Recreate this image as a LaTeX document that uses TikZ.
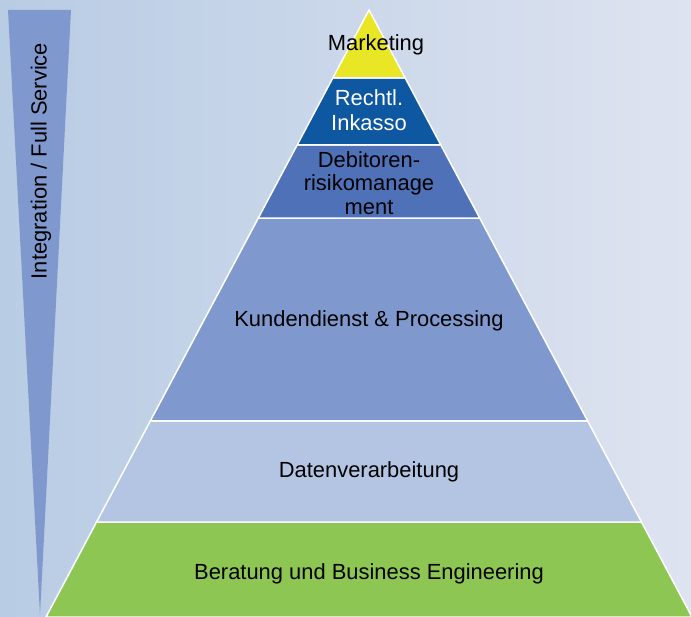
\documentclass[tikz,border=0pt]{standalone}
\usepackage{fontspec}
\setmainfont{Liberation Sans}
\usetikzlibrary{calc}

\definecolor{bgleft}{RGB}{184,204,228}
\definecolor{bgright}{RGB}{222,227,240}
\definecolor{mktyellow}{RGB}{233,230,37}
\definecolor{inkblue}{RGB}{13,88,160}
\definecolor{debblue}{RGB}{79,113,184}
\definecolor{kdblue}{RGB}{127,153,207}
\definecolor{datblue}{RGB}{180,197,228}
\definecolor{berggreen}{RGB}{141,198,82}

\tikzset{
  layer/.style={draw=white, line width=1.5pt, line join=miter},
  lbl/.style={font=\fontsize{22}{25}\selectfont, align=center, text=black, inner sep=0pt}
}

\begin{document}
\begin{tikzpicture}[x=1bp, y=1bp]
                \useasboundingbox (0,0) rectangle (691,617);
                \shade [left color=bgleft, right color=bgright] (0,0) rectangle (691,617);
                % pyramid outline
                \coordinate (apex) at (369,607);
                \coordinate (bl) at (46,0);
                \coordinate (br) at (692,0);
                \coordinate (l1) at ($(apex)!0.112!(bl)$);
                \coordinate (r1) at ($(apex)!0.112!(br)$);
                \coordinate (l2) at ($(apex)!0.2224!(bl)$);
                \coordinate (r2) at ($(apex)!0.2224!(br)$);
                \coordinate (l3) at ($(apex)!0.3427!(bl)$);
                \coordinate (r3) at ($(apex)!0.3427!(br)$);
                \coordinate (l4) at ($(apex)!0.6771!(bl)$);
                \coordinate (r4) at ($(apex)!0.6771!(br)$);
                \coordinate (l5) at ($(apex)!0.8435!(bl)$);
                \coordinate (r5) at ($(apex)!0.8435!(br)$);
                \fill [berggreen, layer] (l5) -- (r5) -- (br) -- (bl) -- cycle;
                \fill [datblue, layer] (l4) -- (r4) -- (r5) -- (l5) -- cycle;
                \fill [kdblue, layer] (l3) -- (r3) -- (r4) -- (l4) -- cycle;
                \fill [debblue, layer] (l2) -- (r2) -- (r3) -- (l3) -- cycle;
                \fill [inkblue, layer] (l1) -- (r1) -- (r2) -- (l2) -- cycle;
                \fill [mktyellow, layer] (apex) -- (r1) -- (l1) -- cycle;
                % labels
                \node [lbl] (mkt) at (376,572) {Marketing};
                \node [lbl, text=white] (inkasso) at (369,507) {Rechtl.\\Inkasso};
                \node [lbl, font=\fontsize{22}{23.5}\selectfont] (risiko) at (369,434) {Debitoren-\\risikomanage\\ment};
                \node [lbl] (kunden) at (369,296) {Kundendienst \& Processing};
                \node [lbl] (daten) at (369,145.5) {Datenverarbeitung};
                \node [lbl] (beratung) at (369,43.5) {Beratung und Business Engineering};
                % side wedge
                \fill [kdblue] (8,607) -- (71,607) -- (40,2) -- cycle;
                \node [lbl, rotate=90] (integration) at (41,456) {Integration / Full Service};
            \end{tikzpicture}
\end{document}
